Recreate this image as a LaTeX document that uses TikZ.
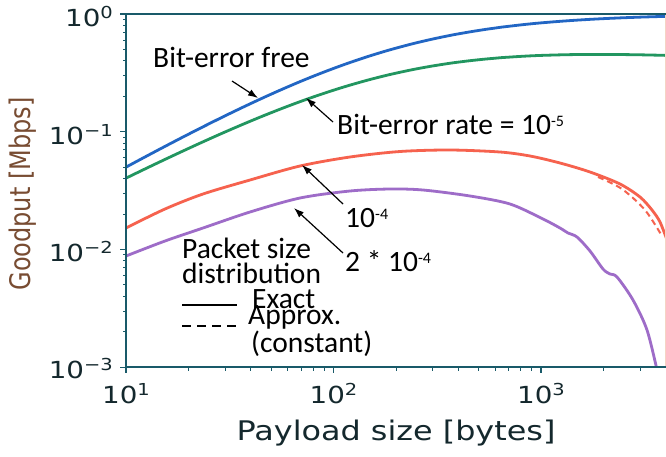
\documentclass[tikz,border=0pt]{standalone}
\usepackage{fontspec}
\setmainfont{DejaVu Sans}
\newfontfamily\annfont{Carlito}
\usetikzlibrary{arrows.meta}
\definecolor{cblue}{RGB}{34,102,196}
\definecolor{cgreen}{RGB}{34,150,96}
\definecolor{cred}{RGB}{246,98,78}
\definecolor{cpurple}{RGB}{158,108,200}
\definecolor{cspine}{RGB}{25,90,105}
\definecolor{ctick}{RGB}{20,40,45}
\definecolor{cylab}{RGB}{120,76,50}
\definecolor{cfaint}{RGB}{245,212,196}
\newcommand\tlab[1]{\scalebox{1.18}[1]{\fontsize{23.5}{24}\selectfont 10\raisebox{8pt}{\fontsize{16.5}{17}\selectfont #1}}}
\newcommand\asup[1]{\raisebox{8pt}{\fontsize{16}{16}\selectfont #1}}
\begin{document}
\begin{tikzpicture}[x=1pt,y=-1pt,
  curve/.style={line width=2.8pt, line join=round},
  spine/.style={draw=cspine, line width=1.5pt},
  tickmaj/.style={draw=cspine, line width=1.2pt},
  tickmin/.style={draw=cspine, line width=0.9pt},
  ticklab/.style={inner sep=0pt, text=ctick},
  ann/.style={inner sep=0pt, font=\annfont\fontsize{29.5}{30}\selectfont, text=black},
  arr/.style={line width=1.2pt, -{Latex[length=10pt,width=7pt]}},
  declare function={yb(\t)=14+51.117*ln(1+19*exp(-0.0110968*(\t-126)));
                    yg(\t)=yb(\t)+11+0.0519*(\t-126);}]
\useasboundingbox (0,0) rectangle (666,456);
\fill[white] (0,0) rectangle (666,456);

% curves
\begin{scope}
\clip (126,14) rectangle (666,367);
\draw[curve, cblue] plot[domain=126:666, samples=70, smooth] (\x, {yb(\x)});
\draw[curve, cgreen] plot[domain=126:666, samples=70, smooth] (\x, {yg(\x)});
\draw[curve, cred] plot[smooth] coordinates {(126,228) (165,209) (203,194) (250,180) (300,166) (350,157) (400,151.5) (450,150) (500,152) (530,156) (560,163) (590,172) (620,184) (640,197) (652,210) (660,222) (667,240)};
\draw[cred, line width=2pt, dash pattern=on 6pt off 4pt] plot[smooth] coordinates {(598,177) (622,189) (645,210) (662,236)};
\draw[curve, cpurple] plot[smooth] coordinates {(126,256) (165,241) (203,228) (250,212) (300,198) (350,191) (390,189) (423,190) (470,196) (510,204) (543,219) (560,228) (568,233) (577,237) (590,251) (603,269) (610,274) (617,277) (633,300) (647,330) (657,370)};
\end{scope}

% axes
\draw[draw=cfaint, line width=1pt] (665,14) -- (665,367);
\draw[spine] (126,14) -- (666,14);
\draw[spine] (126,14) -- (126,367) -- (666,367);
\foreach \d in {0,1,2,3} \draw[tickmaj] (126,{14+117.7*\d}) -- ++(-6,0);
\foreach \d in {0,1,2} \foreach \k in {2,...,9}
  \draw[tickmin] (126,{14+117.7*(\d+1)-117.7*log10(\k)}) -- ++(-3.5,0);
\foreach \xx in {126,333.5,541} \draw[tickmaj] (\xx,367) -- ++(0,6);
\foreach \d in {0,1} \foreach \k in {2,...,9}
  \draw[tickmin] ({126+207.5*(\d+log10(\k))},367) -- ++(0,3.5);
\foreach \k in {2,3}
  \draw[tickmin] ({126+207.5*(2+log10(\k))},367) -- ++(0,3.5);

% tick labels
\node[ticklab, anchor=base east] (y0) at (113,26.5) {\tlab{0}};
\node[ticklab, anchor=base east] (y1) at (113,144.2) {\tlab{−1}};
\node[ticklab, anchor=base east] (y2) at (113,261.9) {\tlab{−2}};
\node[ticklab, anchor=base east] (y3) at (113,378) {\tlab{−3}};
\node[ticklab, anchor=base] (x1) at (126,403) {\tlab{1}};
\node[ticklab, anchor=base] (x2) at (333.5,403) {\tlab{2}};
\node[ticklab, anchor=base] (x3) at (541,403) {\tlab{3}};

% axis labels
\node[inner sep=0pt, text=ctick, anchor=base] (xlab) at (396,440) {\scalebox{1.18}[1]{\fontsize{27}{28}\selectfont Payload size [bytes]}};
\node[inner sep=0pt, text=cylab, rotate=90] (ylab) at (22.5,194) {\scalebox{1}[1.18]{\fontsize{24}{25}\selectfont Goodput [Mbps]}};

% annotations
\node[ann, anchor=base west] (bef) at (153,67) {Bit-error free};
\node[ann, anchor=base west] (ber) at (337,134) {Bit-error rate = 10\asup{-5}};
\node[ann, anchor=base west] (b4) at (345,227) {10\asup{-4}};
\node[ann, anchor=base west] (b24) at (345,271) {2 * 10\asup{-4}};
\node[ann, anchor=base west, align=left, font=\annfont\fontsize{29.5}{25}\selectfont] (lg1) at (182,283) {Packet size\\distribution};
\node[ann, anchor=base west] (lg3) at (252,308) {Exact};
\node[ann, anchor=base west, align=left, font=\annfont\fontsize{29.5}{21}\selectfont] (lg4) at (248,352) {Approx.\\\hspace*{3pt}(constant)};

% arrows
\coordinate (a1s) at (232,81);  \coordinate (a1e) at (258,98);
\coordinate (a2s) at (333,122); \coordinate (a2e) at (306,98);
\coordinate (a3s) at (343,204); \coordinate (a3e) at (302,165);
\coordinate (a4s) at (343,253); \coordinate (a4e) at (294,208);
\draw[arr] (a1s) -- (a1e);
\draw[arr] (a2s) -- (a2e);
\draw[arr] (a3s) -- (a3e);
\draw[arr] (a4s) -- (a4e);

% legend samples
\coordinate (ls1) at (182,305); \coordinate (le1) at (237,305);
\coordinate (ls2) at (182,326); \coordinate (le2) at (237,326);
\draw[line width=2pt] (ls1) -- (le1);
\draw[line width=2pt, dash pattern=on 9pt off 6pt] (ls2) -- (le2);
\end{tikzpicture}
\end{document}
